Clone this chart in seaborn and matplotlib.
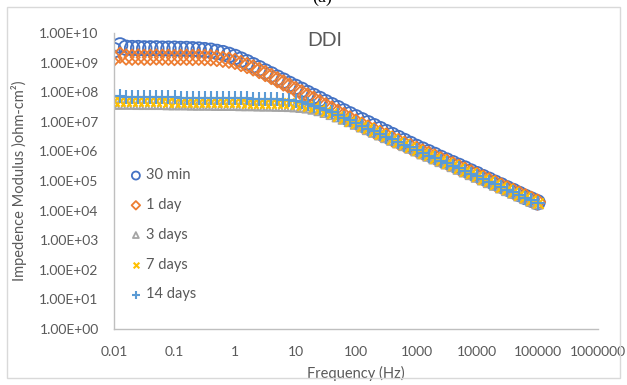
import numpy as np
import matplotlib
matplotlib.use("Agg")
import matplotlib.pyplot as plt
from matplotlib.patches import Rectangle
from matplotlib.ticker import FuncFormatter, FixedLocator, NullLocator
import seaborn as sns

# Frequencies (Hz), high to low, 10 points per decade
freq = [100000, 79430, 63100, 50120, 39810, 31620, 25120, 19950, 15850, 12590,
        10000, 7943, 6310, 5012, 3981, 3162, 2512, 1995, 1585, 1259,
        1000, 794.3, 631.0, 501.2, 398.1, 316.2, 251.2, 199.5, 158.5, 125.9,
        100, 79.43, 63.10, 50.12, 39.81, 31.62, 25.12, 19.95, 15.85, 12.59,
        10, 7.943, 6.310, 5.012, 3.981, 3.162, 2.512, 1.995, 1.585, 1.259,
        1, 0.7943, 0.6310, 0.5012, 0.3981, 0.3162, 0.2512, 0.1995, 0.1585, 0.1259,
        0.1, 0.07943, 0.06310, 0.05012, 0.03981, 0.03162, 0.02512, 0.01995, 0.01585, 0.01259,
        0.01]

# log10 of |Z| (ohm-cm2), same order as freq
log_z_30min = [4.28, 4.37, 4.46, 4.56, 4.66, 4.75, 4.85, 4.94, 5.04, 5.13,
               5.23, 5.32, 5.42, 5.51, 5.60, 5.69, 5.78, 5.88, 5.97, 6.06,
               6.15, 6.25, 6.35, 6.45, 6.55, 6.65, 6.75, 6.85, 6.95, 7.05,
               7.15, 7.25, 7.35, 7.46, 7.56, 7.66, 7.77, 7.87, 7.97, 8.08,
               8.18, 8.28, 8.39, 8.49, 8.60, 8.70, 8.81, 8.91, 9.01, 9.10,
               9.19, 9.26, 9.32, 9.36, 9.40, 9.42, 9.44, 9.45, 9.46, 9.46,
               9.47, 9.47, 9.47, 9.48, 9.48, 9.48, 9.49, 9.49, 9.50, 9.58,
               9.42]
log_z_1day = [4.29, 4.38, 4.47, 4.56, 4.65, 4.74, 4.83, 4.92, 5.01, 5.10,
              5.19, 5.28, 5.37, 5.46, 5.55, 5.64, 5.72, 5.81, 5.90, 5.98,
              6.07, 6.16, 6.24, 6.33, 6.42, 6.52, 6.61, 6.70, 6.79, 6.89,
              6.99, 7.10, 7.21, 7.32, 7.43, 7.54, 7.65, 7.76, 7.87, 7.98,
              8.09, 8.20, 8.31, 8.42, 8.53, 8.63, 8.73, 8.82, 8.90, 8.97,
              9.04, 9.08, 9.11, 9.14, 9.16, 9.17, 9.18, 9.17, 9.18, 9.18,
              9.17, 9.18, 9.18, 9.19, 9.18, 9.18, 9.19, 9.18, 9.19, 9.25,
              9.15]
log_z_3days = [4.25, 4.34, 4.43, 4.52, 4.61, 4.70, 4.79, 4.88, 4.97, 5.06,
               5.15, 5.24, 5.33, 5.42, 5.51, 5.60, 5.68, 5.77, 5.86, 5.94,
               6.04, 6.13, 6.22, 6.31, 6.40, 6.49, 6.58, 6.67, 6.76, 6.85,
               6.94, 7.03, 7.11, 7.19, 7.27, 7.34, 7.40, 7.45, 7.49, 7.51,
               7.53, 7.54, 7.55, 7.55, 7.56, 7.56, 7.56, 7.57, 7.57, 7.57,
               7.58, 7.58, 7.58, 7.58, 7.59, 7.59, 7.59, 7.59, 7.60, 7.60,
               7.60, 7.60, 7.61, 7.61, 7.61, 7.61, 7.61, 7.62, 7.62, 7.62,
               7.62]
log_z_7days = [4.27, 4.36, 4.45, 4.54, 4.63, 4.72, 4.81, 4.90, 4.99, 5.08,
               5.17, 5.26, 5.35, 5.44, 5.53, 5.62, 5.70, 5.79, 5.88, 5.96,
               6.06, 6.15, 6.24, 6.33, 6.42, 6.51, 6.60, 6.69, 6.78, 6.87,
               6.95, 7.04, 7.12, 7.21, 7.29, 7.37, 7.44, 7.50, 7.55, 7.58,
               7.60, 7.62, 7.63, 7.63, 7.64, 7.64, 7.65, 7.65, 7.65, 7.66,
               7.66, 7.66, 7.66, 7.67, 7.67, 7.67, 7.67, 7.68, 7.68, 7.68,
               7.68, 7.68, 7.69, 7.69, 7.69, 7.69, 7.69, 7.70, 7.70, 7.70,
               7.70]
log_z_14days = [4.26, 4.35, 4.44, 4.53, 4.62, 4.71, 4.80, 4.89, 4.98, 5.07,
                5.16, 5.25, 5.34, 5.43, 5.52, 5.60, 5.69, 5.78, 5.86, 5.95,
                6.05, 6.14, 6.23, 6.32, 6.41, 6.50, 6.59, 6.68, 6.77, 6.87,
                6.96, 7.05, 7.14, 7.23, 7.32, 7.40, 7.48, 7.55, 7.61, 7.66,
                7.70, 7.73, 7.75, 7.76, 7.77, 7.77, 7.78, 7.78, 7.79, 7.79,
                7.79, 7.80, 7.80, 7.80, 7.81, 7.81, 7.81, 7.82, 7.82, 7.82,
                7.83, 7.83, 7.83, 7.84, 7.84, 7.84, 7.85, 7.85, 7.85, 7.86,
                7.86]

series_labels = ["30 min", "1 day", "3 days", "7 days", "14 days"]
x_ticks = [0.01, 0.1, 1, 10, 100, 1000, 10000, 100000, 1000000]
y_ticks = [1e0, 1e1, 1e2, 1e3, 1e4, 1e5, 1e6, 1e7, 1e8, 1e9, 1e10]

sns.set_style("white")
plt.rcParams['font.family'] = ['Lato', 'DejaVu Sans']
text_gray = "#595959"

fig = plt.figure(figsize=(6.27, 3.85), dpi=100)
ax = fig.add_axes([114 / 627, 1 - 329 / 385, 484 / 627, 296 / 385])

# Excel-style marker styles for each series
styles = [
    dict(marker="o", s=110, facecolor="none", edgecolor="#4472C4", linewidth=1.3),
    dict(marker="D", s=62, facecolor="none", edgecolor="#ED7D31", linewidth=1.3),
    dict(marker="^", s=60, facecolor="none", edgecolor="#A5A5A5", linewidth=1.3),
    dict(marker="x", s=55, color="#FFC000", linewidth=1.5),
    dict(marker="+", s=90, color="#5B9BD5", linewidth=1.5),
]
all_logs = [log_z_30min, log_z_1day, log_z_3days, log_z_7days, log_z_14days]

for label, logs, st in zip(series_labels, all_logs, styles):
    sns.scatterplot(x=freq, y=10 ** np.array(logs), label=label, ax=ax, **st)

ax.set_xscale("log")
ax.set_yscale("log")
ax.set_xlim(0.01, 1e6)
ax.set_ylim(1, 1e10)
ax.xaxis.set_major_locator(FixedLocator(x_ticks))
ax.yaxis.set_major_locator(FixedLocator(y_ticks))
ax.xaxis.set_minor_locator(NullLocator())
ax.yaxis.set_minor_locator(NullLocator())
ax.xaxis.set_major_formatter(FuncFormatter(lambda v, p: f"{v:g}" if v < 1 else f"{int(round(v))}"))
ax.yaxis.set_major_formatter(FuncFormatter(lambda v, p: f"{v:.2E}"))
ax.tick_params(axis="both", length=0, labelsize=10, colors=text_gray)
ax.tick_params(axis="x", pad=12)
ax.tick_params(axis="y", pad=11)

for side in ["top", "right"]:
    ax.spines[side].set_visible(False)
for side in ["left", "bottom"]:
    ax.spines[side].set_color("#BFBFBF")
    ax.spines[side].set_linewidth(1.0)

ax.set_xlabel("Frequency (Hz)", fontsize=10.5, color=text_gray, labelpad=6)
ax.set_ylabel("Impedence Modulus )ohm-cm²)", fontsize=10.5, color=text_gray, labelpad=9)
ax.text(0.436, 0.976, "DDI", transform=ax.transAxes, ha="center", va="center",
        fontsize=14, color=text_gray)

leg = ax.legend(loc="center left", bbox_to_anchor=(0.0, 0.318), frameon=False,
                fontsize=10.5, labelspacing=1.08, handletextpad=0.1,
                markerscale=0.55, handlelength=1.2)
for t in leg.get_texts():
    t.set_color(text_gray)

# Chart border and the panel label cut off at the top
fig.patches.append(Rectangle((7 / 627, 1 - 378 / 385), 613 / 627, 371 / 385,
                             transform=fig.transFigure, fill=False,
                             edgecolor="#D9D9D9", linewidth=1.0))
fig.text(322 / 627, 1 + 3 / 385, "(a)", ha="center", va="center",
         fontsize=13, family="Liberation Serif", color="black")

fig.savefig("out.png", dpi=100)
